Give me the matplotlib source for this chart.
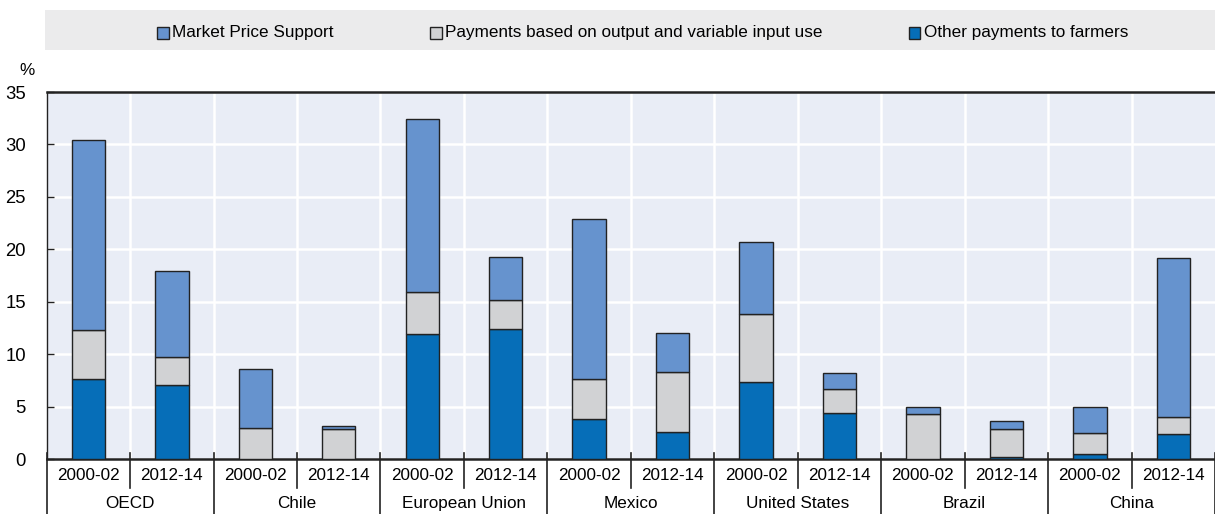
import matplotlib.pyplot as plt
from matplotlib.transforms import blended_transform_factory
from matplotlib.patches import Rectangle
import numpy as np

plt.rcParams['font.family'] = ['Liberation Sans Narrow', 'Liberation Sans', 'DejaVu Sans']

groups = ["OECD", "Chile", "European Union", "Mexico", "United States", "Brazil", "China"]
periods = ["2000-02", "2012-14"]

# segment values (% of gross farm receipts), bottom to top
other_pay = [7.6, 7.1, 0.0, 0.0, 11.9, 12.4, 3.8, 2.6, 7.3, 4.4, 0.0, 0.2, 0.45, 2.4]
output_pay = [4.7, 2.6, 3.0, 2.9, 4.0, 2.8, 3.8, 5.7, 6.5, 2.3, 4.3, 2.7, 2.05, 1.6]
mps = [18.1, 8.2, 5.6, 0.25, 16.5, 4.1, 15.3, 3.7, 6.9, 1.5, 0.65, 0.7, 2.45, 15.2]

c_mps = "#6693CE"
c_out = "#D1D2D4"
c_oth = "#066EB8"
edge = "#222222"
fs = 12.3

fig = plt.figure(figsize=(12.15, 5.14), dpi=100)
ax = fig.add_axes([0.0384, 0.107, 0.9616, 0.714])
ax.set_facecolor("#E9EDF6")

x = np.arange(len(mps))
w = 0.40
b1 = np.array(other_pay)
b2 = b1 + np.array(output_pay)
ax.bar(x, other_pay, w, color=c_oth, edgecolor=edge, linewidth=1, zorder=3)
ax.bar(x, output_pay, w, bottom=b1, color=c_out, edgecolor=edge, linewidth=1, zorder=3)
ax.bar(x, mps, w, bottom=b2, color=c_mps, edgecolor=edge, linewidth=1, zorder=3)

ax.set_xlim(-0.5, 13.5)
ax.set_ylim(0, 35)
ax.set_yticks(range(0, 36, 5))
ax.set_xticks(np.arange(0.5, 13.5, 1.0))
ax.set_xticklabels([])
ax.grid(True, color="white", linewidth=1.8, zorder=0)
ax.tick_params(axis="x", length=0)
ax.tick_params(axis="y", direction="in", length=5, width=1, colors="#222222",
               labelsize=fs + 1, pad=15)
for lab in ax.get_yticklabels():
    lab.set_color("black")
ax.spines["right"].set_visible(False)
for s in ["left", "bottom", "top"]:
    ax.spines[s].set_color("#222222")
ax.spines["left"].set_linewidth(1)
ax.spines["top"].set_linewidth(1.8)
ax.spines["bottom"].set_linewidth(1.8)

tr = blended_transform_factory(ax.transData, ax.transAxes)
for i in range(len(mps)):
    ax.text(i, -0.044, periods[i % 2], transform=tr, ha="center", va="center", fontsize=fs)
for g, name in enumerate(groups):
    ax.text(2 * g + 0.5, -0.122, name, transform=tr, ha="center", va="center", fontsize=fs)
for k in range(15):
    xb = k - 0.5
    if k % 2 == 0:
        ax.plot([xb, xb], [0.016, -0.16], transform=tr, color="#222222", lw=1.2, clip_on=False)
    else:
        ax.plot([xb, xb], [0.016, -0.079], transform=tr, color="#222222", lw=1.2, clip_on=False)

fig.text(0.022, 0.862, "%", fontsize=fs, ha="center", va="center")

# legend strip
fig.patches.append(Rectangle((0.037, 0.903), 0.963, 0.078, transform=fig.transFigure,
                             facecolor="#EBEBEC", edgecolor="none", zorder=0))
legend_items = [(c_mps, "Market Price Support", 0.1292),
                (c_out, "Payments based on output and variable input use", 0.3539),
                (c_oth, "Other payments to farmers", 0.7481)]
for col, txt, xl in legend_items:
    fig.patches.append(Rectangle((xl, 0.925), 0.0095, 0.023, transform=fig.transFigure,
                                 facecolor=col, edgecolor=edge, linewidth=1, zorder=2))
    fig.text(xl + 0.0125, 0.9375, txt, fontsize=fs, ha="left", va="center")

fig.savefig("out.png", dpi=100)
